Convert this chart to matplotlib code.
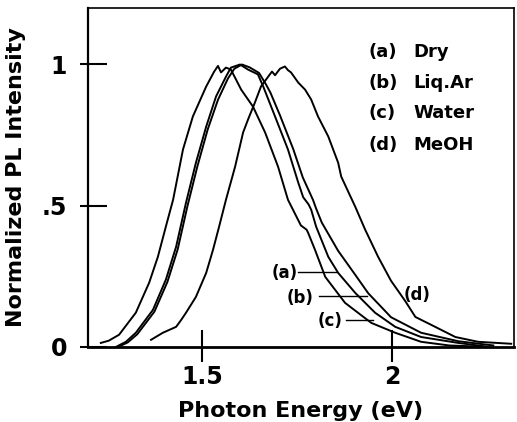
import matplotlib.pyplot as plt
from matplotlib.ticker import FixedLocator


# (a) Dry
energy_a = [1.274, 1.300, 1.326, 1.371, 1.405, 1.432, 1.458, 1.484, 1.511, 1.537,
            1.563, 1.576, 1.600, 1.621, 1.647, 1.661, 1.692, 1.726, 1.753, 1.766,
            1.780, 1.787, 1.800, 1.832, 1.858, 1.903, 1.955, 2.008, 2.076, 2.174, 2.253]
intens_a = [0.000, 0.018, 0.050, 0.131, 0.238, 0.355, 0.511, 0.652, 0.780, 0.887,
            0.957, 0.989, 1.000, 0.982, 0.965, 0.922, 0.816, 0.699, 0.582, 0.530,
            0.505, 0.486, 0.426, 0.319, 0.262, 0.191, 0.121, 0.071, 0.035, 0.014, 0.000]

# (b) Liq.Ar
energy_b = [1.280, 1.305, 1.330, 1.375, 1.409, 1.436, 1.462, 1.488, 1.515, 1.542,
            1.568, 1.585, 1.605, 1.625, 1.650, 1.668, 1.680, 1.705, 1.740, 1.765,
            1.792, 1.800, 1.815, 1.858, 1.903, 1.937, 1.997, 2.076, 2.174, 2.266]
intens_b = [0.000, 0.016, 0.045, 0.125, 0.230, 0.345, 0.500, 0.640, 0.770, 0.875,
            0.950, 0.985, 1.000, 0.990, 0.970, 0.930, 0.900, 0.820, 0.700, 0.600,
            0.520, 0.490, 0.440, 0.340, 0.255, 0.190, 0.105, 0.050, 0.020, 0.005]

# (c) Water
energy_c = [1.234, 1.255, 1.282, 1.326, 1.361, 1.384, 1.405, 1.424, 1.450, 1.476,
            1.511, 1.532, 1.542, 1.550, 1.563, 1.576, 1.603, 1.634, 1.666, 1.700,
            1.726, 1.760, 1.775, 1.779, 1.797, 1.824, 1.876, 1.945, 2.008, 2.076,
            2.150, 2.250]
intens_c = [0.014, 0.022, 0.043, 0.121, 0.227, 0.319, 0.426, 0.521, 0.699, 0.816,
            0.922, 0.975, 0.995, 0.972, 0.989, 0.982, 0.911, 0.851, 0.759, 0.638,
            0.521, 0.430, 0.415, 0.404, 0.344, 0.248, 0.156, 0.085, 0.050, 0.018,
            0.005, 0.000]

# (d) MeOH
energy_d = [1.366, 1.397, 1.432, 1.445, 1.458, 1.484, 1.511, 1.529, 1.545, 1.563,
            1.587, 1.608, 1.621, 1.639, 1.655, 1.674, 1.684, 1.692, 1.705, 1.718,
            1.726, 1.734, 1.753, 1.771, 1.787, 1.805, 1.832, 1.858, 1.866, 1.903,
            1.929, 1.963, 1.997, 2.034, 2.061, 2.113, 2.166, 2.226, 2.313]
intens_d = [0.025, 0.050, 0.071, 0.095, 0.121, 0.177, 0.262, 0.344, 0.426, 0.521,
            0.638, 0.759, 0.805, 0.865, 0.922, 0.957, 0.975, 0.962, 0.985, 0.993,
            0.980, 0.972, 0.936, 0.911, 0.876, 0.816, 0.745, 0.652, 0.603, 0.496,
            0.415, 0.319, 0.234, 0.163, 0.106, 0.071, 0.035, 0.018, 0.011]

legend_tags = ['(a)', '(b)', '(c)', '(d)']
legend_names = ['Dry', 'Liq.Ar', 'Water', 'MeOH']

x_ticks = [1.5, 2.0]
x_tick_labels = ['1.5', '2']
y_ticks = [0.0, 0.5, 1.0]
y_tick_labels = ['0', '.5', '1']

font = 'DejaVu Sans'

fig = plt.figure(figsize=(5.17, 4.22), dpi=100)
ax = fig.add_axes([0.170, 0.178, 0.824, 0.803])

for e, s in [(energy_a, intens_a), (energy_b, intens_b),
             (energy_c, intens_c), (energy_d, intens_d)]:
    ax.plot(e, s, color='black', lw=1.4)

ax.set_xlim(1.2, 2.32)
ax.set_ylim(0, 1.2)

# ticks cross the axis: long part inside, short part outside
ax.xaxis.remove_overlapping_locs = False
ax.yaxis.remove_overlapping_locs = False
ax.xaxis.set_major_locator(FixedLocator(x_ticks))
ax.xaxis.set_minor_locator(FixedLocator(x_ticks))
ax.yaxis.set_major_locator(FixedLocator(y_ticks))
ax.yaxis.set_minor_locator(FixedLocator(y_ticks))
ax.set_xticklabels(x_tick_labels)
ax.set_yticklabels(y_tick_labels)
ax.tick_params(axis='x', which='major', direction='in', length=12, width=1.5, pad=13,
               labelsize=17)
ax.tick_params(axis='x', which='minor', direction='out', length=11, width=1.5)
ax.tick_params(axis='y', which='major', direction='in', length=13.7, width=1.5, pad=15,
               labelsize=17)
ax.tick_params(axis='y', which='minor', direction='out', length=5.8, width=1.5)
for lab in ax.get_xticklabels() + ax.get_yticklabels():
    lab.set_family(font)
    lab.set_weight('bold')

ax.spines['left'].set_linewidth(1.6)
ax.spines['bottom'].set_linewidth(2.0)
ax.spines['top'].set_linewidth(1.2)
ax.spines['right'].set_linewidth(1.2)

ax.set_xlabel('Photon Energy (eV)', family=font, weight='bold', fontsize=16, labelpad=9)
ax.set_ylabel('Normalized PL Intensity', family=font, weight='bold', fontsize=16,
              labelpad=11)

# legend block, upper right
legend_y = [1.046, 0.936, 0.830, 0.716]
for tag, name, yy in zip(legend_tags, legend_names, legend_y):
    ax.text(1.937, yy, tag, family=font, weight='bold', fontsize=13, ha='left', va='center')
    ax.text(2.055, yy, name, family=font, weight='bold', fontsize=13, ha='left', va='center')

# curve labels with pointer lines
ax.text(1.718, 0.262, '(a)', family=font, weight='bold', fontsize=12, ha='center', va='center')
ax.plot([1.752, 1.855], [0.266, 0.266], color='black', lw=1.0)
ax.text(1.758, 0.174, '(b)', family=font, weight='bold', fontsize=12, ha='center', va='center')
ax.plot([1.808, 1.934], [0.181, 0.181], color='black', lw=1.0)
ax.text(1.837, 0.093, '(c)', family=font, weight='bold', fontsize=12, ha='center', va='center')
ax.plot([1.879, 1.950], [0.096, 0.096], color='black', lw=1.0)
ax.text(2.066, 0.183, '(d)', family=font, weight='bold', fontsize=12, ha='center', va='center')

fig.savefig('out.png', dpi=100)
